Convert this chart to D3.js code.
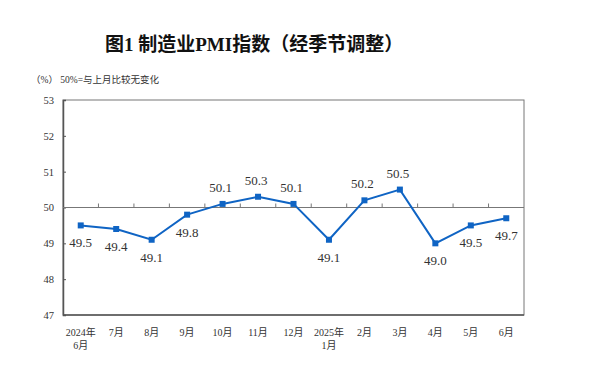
<!DOCTYPE html>
<html>
<head>
<meta charset="utf-8">
<script src="https://cdn.jsdelivr.net/npm/d3@7"></script>
<style>
  body { margin: 0; background: #fff; }
  svg { display: block; }
</style>
</head>
<body>
<div id="chart"></div>
<script>
// months shown on the x axis (two lines where the year changes)
const months = ['2024年\n6月', '7月', '8月', '9月', '10月', '11月', '12月',
    '2025年\n1月', '2月', '3月', '4月', '5月', '6月']
const pmi = [49.5, 49.4, 49.1, 49.8, 50.1, 50.3, 50.1, 49.1, 50.2, 50.5, 49.0, 49.5, 49.7]
const yTicks = [47, 48, 49, 50, 51, 52, 53]

const width = 600
const height = 384
const margin = { top: 100, right: 76, bottom: 69, left: 63 }
const serif = '"Liberation Serif", "Times New Roman", "Noto Sans CJK SC", serif'
const cjk = '"Liberation Serif", "Noto Sans CJK SC", serif'

const svg = d3.select('#chart')
    .append('svg')
    .attr('width', width)
    .attr('height', height)

const x = d3.scaleBand()
    .domain(months)
    .range([margin.left, width - margin.right])
    .padding(0)

const y = d3.scaleLinear()
    .domain([47, 53])
    .range([height - margin.bottom, margin.top])

// title
svg.append('text')
    .attr('x', 105)
    .attr('y', 51)
    .style('font-family', cjk)
    .style('font-size', '19px')
    .style('font-weight', 'bold')
    .style('fill', '#111')
    .text('图1 制造业PMI指数（经季节调整）')

svg.append('text')
    .attr('x', 31)
    .attr('y', 83)
    .style('font-family', cjk)
    .style('font-size', '9.5px')
    .style('fill', '#333')
    .text('（%）  50%=与上月比较无变化')

// frame: top and right lighter, left and bottom darker
svg.append('rect')
    .attr('x', margin.left)
    .attr('y', margin.top)
    .attr('width', width - margin.left - margin.right)
    .attr('height', height - margin.top - margin.bottom)
    .attr('fill', 'none')
    .attr('stroke', '#777')
    .attr('stroke-width', 1)

// y axis
const yAxis = svg.append('g')
    .attr('transform', `translate(${margin.left},0)`)
    .call(d3.axisLeft(y).tickValues(yTicks).tickSize(-3).tickPadding(9).tickFormat(d3.format('d')))
yAxis.select('.domain').attr('stroke', '#555').attr('stroke-width', 1.5)
yAxis.selectAll('.tick line').attr('stroke', '#555')
yAxis.selectAll('.tick text')
    .style('font-family', serif)
    .style('font-size', '10.5px')
    .style('fill', '#333')

// bottom axis line
svg.append('line')
    .attr('x1', margin.left)
    .attr('x2', width - margin.right)
    .attr('y1', y(47))
    .attr('y2', y(47))
    .attr('stroke', '#555')
    .attr('stroke-width', 1.5)

// the 50 line with small ticks at the month boundaries
const midAxis = svg.append('g')
    .attr('transform', `translate(0,${y(50)})`)
    .call(d3.axisTop(x).tickSize(4).tickFormat(''))
midAxis.select('.domain').attr('stroke', '#777').attr('d', `M${margin.left},0H${width - margin.right}`)
midAxis.selectAll('.tick').attr('transform', d => `translate(${x(d)},0)`)
midAxis.selectAll('.tick line').attr('stroke', '#777')
midAxis.selectAll('.tick').filter((d, i) => i === 0).remove()

// month labels
const labels = svg.append('g')
    .selectAll('text')
    .data(months)
    .join('text')
    .attr('x', d => x(d) + x.bandwidth() / 2)
    .attr('y', 336)
    .attr('text-anchor', 'middle')
    .style('font-family', cjk)
    .style('font-size', '10px')
    .style('fill', '#333')

labels.selectAll('tspan')
    .data(d => d.split('\n'))
    .join('tspan')
    .attr('x', function () { return this.parentNode.getAttribute('x') })
    .attr('dy', (d, i) => i === 0 ? 0 : 13)
    .text(d => d)

// series
const cx = (d, i) => x(months[i]) + x.bandwidth() / 2
const line = d3.line()
    .x(cx)
    .y(d => y(d))

svg.append('path')
    .datum(pmi)
    .attr('d', line)
    .attr('fill', 'none')
    .attr('stroke', '#0f64c4')
    .attr('stroke-width', 2)

svg.append('g')
    .selectAll('rect')
    .data(pmi)
    .join('rect')
    .attr('x', (d, i) => cx(d, i) - 3)
    .attr('y', d => y(d) - 3)
    .attr('width', 6)
    .attr('height', 6)
    .attr('fill', '#0f64c4')

// value labels: above the line when >= 50, below otherwise
svg.append('g')
    .selectAll('text')
    .data(pmi)
    .join('text')
    .attr('x', (d, i) => cx(d, i) - (d >= 50 ? 2 : 0))
    .attr('y', d => y(d) + (d >= 50 ? -12 : 22))
    .attr('text-anchor', 'middle')
    .style('font-family', serif)
    .style('font-size', '13px')
    .style('fill', '#333')
    .text(d => d.toFixed(1))
</script>
</body>
</html>
